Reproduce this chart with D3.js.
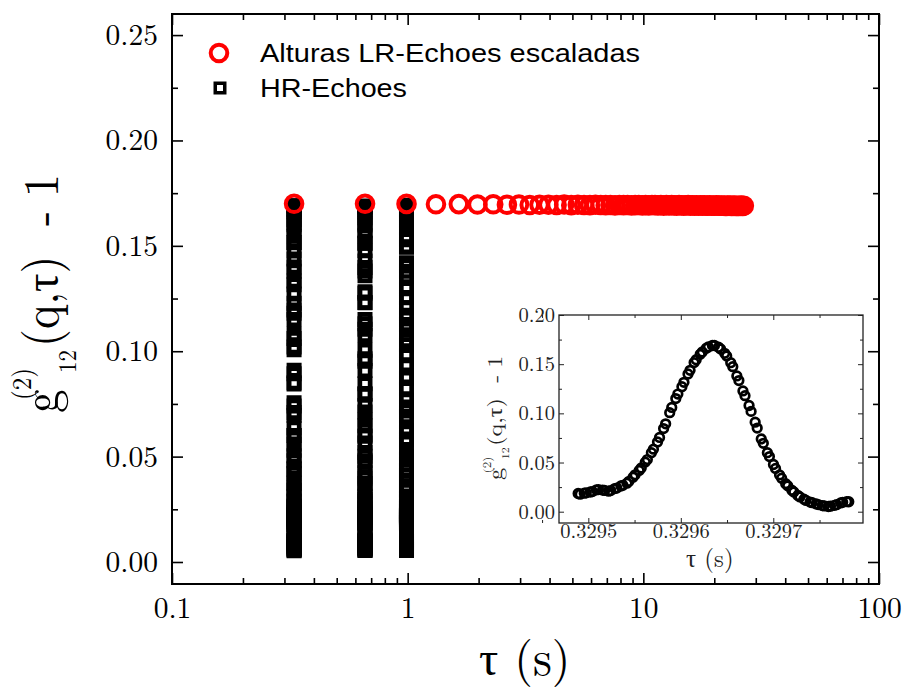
<!DOCTYPE html>
<html><head><meta charset="utf-8">
<script src="https://cdn.jsdelivr.net/npm/d3@7"></script>
<style>body{margin:0;background:#fff} svg{display:block}</style>
</head><body>
<svg id="chart" width="906" height="687"></svg>
<script>
// ---------------- DATA ----------------
const seriesNames = ["Alturas LR-Echoes escaladas", "HR-Echoes"];

// LR echoes: echo times (s) and scaled heights
const lrTau = [0.3296,0.6593,0.9889,1.3185,1.6482,1.9778,2.3074,2.6370,2.9667,3.2963,
  3.6259,3.9556,4.2852,4.6148,4.9445,5.2741,5.6037,5.9333,6.2630,6.5926,
  6.9222,7.2519,7.5815,7.9111,8.2408,8.5704,8.9000,9.2296,9.5593,9.8889,
  10.2185,10.5482,10.8778,11.2074,11.5371,11.8667,12.1963,12.5259,12.8556,13.1852,
  13.5148,13.8445,14.1741,14.5037,14.8334,15.1630,15.4926,15.8222,16.1519,16.4815,
  16.8111,17.1408,17.4704,17.8000,18.1297,18.4593,18.7889,19.1185,19.4482,19.7778,
  20.1074,20.4371,20.7667,21.0963,21.4260,21.7556,22.0852,22.4148,22.7445,23.0741,
  23.4037,23.7334,24.0630,24.3926,24.7223,25.0519,25.3815,25.7111,26.0408,26.3704,
  26.7000];
const lrG = [0.1700,0.1700,0.1699,0.1697,0.1698,0.1696,0.1697,0.1695,0.1696,0.1694,
  0.1695,0.1695,0.1694,0.1696,0.1693,0.1695,0.1694,0.1693,0.1695,0.1694,
  0.1693,0.1694,0.1692,0.1694,0.1693,0.1694,0.1692,0.1693,0.1694,0.1692,
  0.1693,0.1692,0.1694,0.1693,0.1692,0.1693,0.1691,0.1693,0.1692,0.1693,
  0.1692,0.1691,0.1693,0.1692,0.1691,0.1692,0.1693,0.1691,0.1692,0.1691,
  0.1692,0.1690,0.1692,0.1691,0.1692,0.1690,0.1691,0.1692,0.1690,0.1691,
  0.1690,0.1692,0.1691,0.1690,0.1691,0.1690,0.1691,0.1689,0.1691,0.1690,
  0.1691,0.1689,0.1690,0.1691,0.1689,0.1690,0.1689,0.1690,0.1691,0.1689,
  0.1690];

// HR echo 1 (also shown in the inset)
const hr1Tau = [0.3294890,0.3294912,0.3294956,0.3294978,0.3295022,0.3295044,0.3295088,
  0.3295110,0.3295154,0.3295176,0.3295220,0.3295242,0.3295286,0.3295308,
  0.3295352,0.3295374,0.3295418,0.3295440,0.3295484,0.3295506,
  0.3295550,0.3295572,0.3295616,0.3295638,0.3295682,0.3295704,0.3295748,
  0.3295770,0.3295814,0.3295836,0.3295880,0.3295902,0.3295946,0.3295968,
  0.3296012,0.3296034,0.3296078,0.3296100,0.3296144,0.3296166,
  0.3296210,0.3296232,0.3296276,0.3296298,0.3296342,0.3296364,0.3296408,
  0.3296430,0.3296474,0.3296496,0.3296540,0.3296562,0.3296606,0.3296628,
  0.3296672,0.3296694,0.3296738,0.3296760,0.3296804,0.3296826,
  0.3296870,0.3296892,0.3296936,0.3296958,0.3297002,0.3297024,0.3297068,
  0.3297090,0.3297134,0.3297156,0.3297200,0.3297222,0.3297266,0.3297288,
  0.3297332,0.3297354,0.3297398,0.3297420,0.3297464,0.3297486,
  0.3297530,0.3297552,0.3297596,0.3297618,0.3297662,0.3297684,0.3297728,
  0.3297750,0.3297794,0.3297816];
const hr1G = [0.0185,0.0178,0.0188,0.0192,0.0200,0.0205,0.0222,
  0.0225,0.0220,0.0216,0.0209,0.0215,0.0235,0.0240,
  0.0261,0.0268,0.0290,0.0309,0.0351,0.0375,
  0.0420,0.0445,0.0504,0.0530,0.0600,0.0636,0.0709,
  0.0755,0.0845,0.0893,0.1007,0.1060,0.1150,0.1196,
  0.1271,0.1315,0.1400,0.1437,0.1516,0.1545,
  0.1600,0.1624,0.1662,0.1675,0.1690,0.1690,0.1672,
  0.1655,0.1610,0.1583,0.1515,0.1475,0.1380,0.1333,
  0.1228,0.1180,0.1080,0.1020,0.0910,0.0850,
  0.0740,0.0695,0.0600,0.0560,0.0480,0.0440,0.0374,
  0.0340,0.0285,0.0263,0.0218,0.0200,0.0165,0.0150,
  0.0127,0.0115,0.0098,0.0092,0.0079,0.0072,
  0.0062,0.0059,0.0053,0.0056,0.0065,0.0071,0.0089,
  0.0095,0.0102,0.0101];

// HR echo 2
const hr2Tau = [0.6589802,0.6589824,0.6589868,0.6589890,0.6589934,0.6589956,
  0.6590000,0.6590022,0.6590066,0.6590088,0.6590132,0.6590154,0.6590198,
  0.6590220,0.6590264,0.6590286,0.6590330,0.6590352,0.6590396,0.6590418,
  0.6590462,0.6590484,0.6590528,0.6590550,0.6590594,0.6590616,
  0.6590660,0.6590682,0.6590726,0.6590748,0.6590792,0.6590814,0.6590858,
  0.6590880,0.6590924,0.6590946,0.6590990,0.6591012,0.6591056,0.6591078,
  0.6591122,0.6591144,0.6591188,0.6591210,0.6591254,0.6591276,
  0.6591320,0.6591342,0.6591386,0.6591408,0.6591452,0.6591474,0.6591518,
  0.6591540,0.6591584,0.6591606,0.6591650,0.6591672,0.6591716,0.6591738,
  0.6591782,0.6591804,0.6591848,0.6591870,0.6591914,0.6591936,
  0.6591980,0.6592002,0.6592046,0.6592068,0.6592112,0.6592134,0.6592178,
  0.6592200,0.6592244,0.6592266,0.6592310,0.6592332,0.6592376,0.6592398,
  0.6592442,0.6592464,0.6592508,0.6592530,0.6592574,0.6592596,
  0.6592640,0.6592662,0.6592706,0.6592728];
const hr2G = [0.0186,0.0187,0.0197,0.0204,0.0213,0.0221,
  0.0224,0.0218,0.0212,0.0212,0.0226,0.0233,0.0252,
  0.0259,0.0280,0.0296,0.0332,0.0352,0.0398,0.0424,
  0.0473,0.0502,0.0565,0.0597,0.0674,0.0712,
  0.0800,0.0846,0.0953,0.1005,0.1104,0.1150,0.1231,
  0.1275,0.1358,0.1397,0.1478,0.1512,0.1572,0.1599,
  0.1643,0.1660,0.1683,0.1689,0.1684,0.1671,
  0.1633,0.1608,0.1548,0.1512,0.1428,0.1381,0.1282,
  0.1230,0.1130,0.1075,0.0964,0.0908,0.0795,0.0742,
  0.0646,0.0603,0.0520,0.0480,0.0405,0.0372,
  0.0312,0.0286,0.0240,0.0220,0.0182,0.0166,0.0138,
  0.0126,0.0106,0.0098,0.0084,0.0078,0.0067,0.0062,
  0.0056,0.0055,0.0060,0.0066,0.0080,0.0088,
  0.0098,0.0100,0.0099,0.0097];

// HR echo 3
const hr3Tau = [0.9884670,0.9884714,0.9884736,0.9884780,0.9884802,0.9884846,0.9884868,
  0.9884912,0.9884934,0.9884978,0.9885000,0.9885044,0.9885066,
  0.9885110,0.9885132,0.9885176,0.9885198,0.9885242,0.9885264,0.9885308,
  0.9885330,0.9885374,0.9885396,0.9885440,0.9885462,0.9885506,0.9885528,
  0.9885572,0.9885594,0.9885638,0.9885660,0.9885704,0.9885726,
  0.9885770,0.9885792,0.9885836,0.9885858,0.9885902,0.9885924,0.9885968,
  0.9885990,0.9886034,0.9886056,0.9886100,0.9886122,0.9886166,0.9886188,
  0.9886232,0.9886254,0.9886298,0.9886320,0.9886364,0.9886386,
  0.9886430,0.9886452,0.9886496,0.9886518,0.9886562,0.9886584,0.9886628,
  0.9886650,0.9886694,0.9886716,0.9886760,0.9886782,0.9886826,0.9886848,
  0.9886892,0.9886914,0.9886958,0.9886980,0.9887024,0.9887046,
  0.9887090,0.9887112,0.9887156,0.9887178,0.9887222,0.9887244,0.9887288,
  0.9887310,0.9887354,0.9887376,0.9887420,0.9887442,0.9887486,0.9887508,
  0.9887552,0.9887574,0.9887618];
const hr3G = [0.0186,0.0182,0.0189,0.0200,0.0204,0.0218,0.0223,
  0.0222,0.0217,0.0211,0.0214,0.0229,0.0239,
  0.0254,0.0263,0.0286,0.0300,0.0341,0.0362,0.0411,
  0.0434,0.0488,0.0517,0.0583,0.0617,0.0691,0.0735,
  0.0823,0.0871,0.0978,0.1031,0.1127,0.1171,
  0.1255,0.1296,0.1379,0.1420,0.1496,0.1529,0.1586,
  0.1611,0.1653,0.1668,0.1688,0.1693,0.1678,0.1662,
  0.1621,0.1595,0.1531,0.1493,0.1405,0.1355,
  0.1255,0.1205,0.1104,0.1051,0.0936,0.0879,0.0768,
  0.0716,0.0624,0.0581,0.0500,0.0461,0.0388,0.0356,
  0.0299,0.0273,0.0230,0.0210,0.0174,0.0158,
  0.0132,0.0121,0.0102,0.0094,0.0081,0.0075,0.0064,
  0.0060,0.0055,0.0056,0.0063,0.0068,0.0084,0.0091,
  0.0100,0.0101,0.0099];

// Tick values / labels
const xMajorTicks = [0.1, 1, 10, 100];
const xTickLabels = ["0.1", "1", "10", "100"];
const yMajorTicks = [0, 0.05, 0.10, 0.15, 0.20, 0.25];
const insetXTicks = [0.3295, 0.3296, 0.3297];
const insetYTicks = [0, 0.05, 0.10, 0.15, 0.20];

// ---------------- DRAWING ----------------
const SERIF = '"Latin Modern Roman","CMU Serif","Liberation Serif",serif';
const SANS = '"Liberation Sans",Arial,sans-serif';
const svg = d3.select('#chart');
const M = {left:172, right:879, top:14, bottom:584};

const x = d3.scaleLog().domain([0.1,100]).range([M.left, M.right]);
const y = d3.scaleLinear().domain([-0.01044,0.26]).range([M.bottom, M.top]);

svg.append('rect').attr('width',906).attr('height',687).attr('fill','#fff');

const xMinor = [];
[0.1,1,10].forEach(d => { for (let k=2;k<=9;k++) xMinor.push(d*k); });
const yMinor = yMajorTicks.map(v => v + 0.025);

function styleAxis(g, fs, col, lw){
  g.select('.domain').remove();
  g.selectAll('line').attr('stroke',col).attr('stroke-width',lw);
  g.selectAll('text').attr('fill',col).style('font-family',SERIF).style('font-size',fs+'px');
}
function addAxis(axis, tx, ty, fs, col, lw){
  svg.append('g').attr('transform',`translate(${tx},${ty})`).call(axis).call(g=>styleAxis(g,fs,col,lw));
}
addAxis(d3.axisBottom(x).tickValues(xMajorTicks).tickSize(-11).tickPadding(13).tickFormat((d,i)=>xTickLabels[i]), 0, M.bottom, 29.5, '#000', 1.6);
addAxis(d3.axisBottom(x).tickValues(xMinor).tickSize(-6).tickFormat(''), 0, M.bottom, 29.5, '#000', 1.6);
addAxis(d3.axisTop(x).tickValues(xMajorTicks).tickSize(-11).tickFormat(''), 0, M.top, 29.5, '#000', 1.6);
addAxis(d3.axisTop(x).tickValues(xMinor).tickSize(-6).tickFormat(''), 0, M.top, 29.5, '#000', 1.6);
addAxis(d3.axisLeft(y).tickValues(yMajorTicks).tickSize(-11).tickPadding(14).tickFormat(d3.format('.2f')), M.left, 0, 29.5, '#000', 1.6);
addAxis(d3.axisLeft(y).tickValues(yMinor).tickSize(-6).tickFormat(''), M.left, 0, 29.5, '#000', 1.6);
addAxis(d3.axisRight(y).tickValues(yMajorTicks).tickSize(-11).tickFormat(''), M.right, 0, 29.5, '#000', 1.6);
addAxis(d3.axisRight(y).tickValues(yMinor).tickSize(-6).tickFormat(''), M.right, 0, 29.5, '#000', 1.6);

svg.append('rect').attr('x',M.left).attr('y',M.top)
  .attr('width',M.right-M.left).attr('height',M.bottom-M.top)
  .attr('fill','none').attr('stroke','#000').attr('stroke-width',2);

// HR echoes (black open squares)
const sq = d3.symbol().type(d3.symbolSquare).size(106);
const hrData = [];
[[hr1Tau,hr1G],[hr2Tau,hr2G],[hr3Tau,hr3G]].forEach(([t,g]) => {
  t.forEach((tv,i)=> hrData.push({t:tv, g:g[i]}));
});
svg.append('g').selectAll('path').data(hrData).join('path')
  .attr('d', sq)
  .attr('transform', d=>`translate(${x(d.t)},${y(d.g)})`)
  .attr('fill','none').attr('stroke','#000').attr('stroke-width',4.7);

// LR echoes (red open circles)
svg.append('g').selectAll('circle').data(lrTau.map((t,i)=>({t, g:lrG[i]}))).join('circle')
  .attr('cx', d=>x(d.t)).attr('cy', d=>y(d.g)).attr('r',8.3)
  .attr('fill','none').attr('stroke','#f00').attr('stroke-width',4);

// legend
const leg = svg.append('g');
leg.append('circle').attr('cx',219).attr('cy',53).attr('r',8.3)
  .attr('fill','none').attr('stroke','#f00').attr('stroke-width',4);
leg.append('path').attr('d', d3.symbol().type(d3.symbolSquare).size(90)())
  .attr('transform','translate(220,88)')
  .attr('fill','none').attr('stroke','#000').attr('stroke-width',3.5);
leg.append('text').attr('x',260).attr('y',62).style('font-family',SANS).style('font-size','26.5px')
  .attr('textLength',380).attr('lengthAdjust','spacingAndGlyphs').text(seriesNames[0]);
leg.append('text').attr('x',260).attr('y',97).style('font-family',SANS).style('font-size','26.5px')
  .attr('textLength',147).attr('lengthAdjust','spacingAndGlyphs').text(seriesNames[1]);

// y-axis title  g^(2)_12(q,τ) - 1
function gTitle(parent, tx, ty, sx, sy, color){
  const g = parent.append('g').attr('transform',`translate(${tx},${ty}) rotate(-90) scale(${sx},${sy})`)
    .attr('fill',color);
  const t = (xx, yy, fs, s) => g.append('text').attr('x',xx).attr('y',yy)
    .style('font-family',SERIF).style('font-size',fs+'px').text(s);
  t(0, 0, 47, 'g');
  t(13, -25, 25, '(2)');
  t(40, 17, 23, '12');
  t(66, 0, 46, '(q,τ)');
  t(187, 0, 46, '-');
  t(216, 0, 46, '1');
}
gTitle(svg, 58, 413, 1, 1.07, '#000');

// x-axis title
svg.append('text').attr('x',479).attr('y',675).style('font-family',SERIF).style('font-size','48px')
  .text('τ (s)');

// ---------------- INSET ----------------
const I = {left:559, right:863, top:315, bottom:523};
const xi = d3.scaleLinear().domain([0.3294683,0.329797]).range([I.left,I.right]);
const yi = d3.scaleLinear().domain([-0.0115,0.2]).range([I.bottom,I.top]);
svg.append('rect').attr('x',I.left).attr('y',I.top).attr('width',I.right-I.left)
  .attr('height',I.bottom-I.top).attr('fill','#fff');

const xiMinor = [0.32945,0.32955,0.32965,0.32975];
const yiMinor = [0.025,0.075,0.125,0.175];
const IC = '#222';
addAxis(d3.axisBottom(xi).tickValues(insetXTicks).tickSize(-5).tickPadding(0).tickFormat(d3.format('.4f')), 0, I.bottom, 20.5, IC, 1);
addAxis(d3.axisBottom(xi).tickValues(xiMinor).tickSize(-3).tickFormat(''), 0, I.bottom, 20, IC, 1);
addAxis(d3.axisTop(xi).tickValues(insetXTicks).tickSize(-5).tickFormat(''), 0, I.top, 20, IC, 1);
addAxis(d3.axisTop(xi).tickValues(xiMinor).tickSize(-3).tickFormat(''), 0, I.top, 20, IC, 1);
addAxis(d3.axisLeft(yi).tickValues(insetYTicks).tickSize(-5).tickPadding(4).tickFormat(d3.format('.2f')), I.left, 0, 20.5, IC, 1);
addAxis(d3.axisLeft(yi).tickValues(yiMinor).tickSize(-3).tickFormat(''), I.left, 0, 20, IC, 1);
addAxis(d3.axisRight(yi).tickValues(insetYTicks).tickSize(-5).tickFormat(''), I.right, 0, 20, IC, 1);
addAxis(d3.axisRight(yi).tickValues(yiMinor).tickSize(-3).tickFormat(''), I.right, 0, 20, IC, 1);

svg.append('rect').attr('x',I.left).attr('y',I.top).attr('width',I.right-I.left)
  .attr('height',I.bottom-I.top).attr('fill','none').attr('stroke',IC).attr('stroke-width',1.3);

svg.append('g').selectAll('circle').data(hr1Tau.map((t,i)=>({t,g:hr1G[i]}))).join('circle')
  .attr('cx',d=>xi(d.t)).attr('cy',d=>yi(d.g)).attr('r',4.3)
  .attr('fill','none').attr('stroke','#000').attr('stroke-width',2.7);

gTitle(svg, 502, 480, 0.52, 0.44, IC);
svg.append('text').attr('x',686).attr('y',567).style('font-family',SERIF).style('font-size','25px')
  .attr('fill',IC).text('τ (s)');
</script>
</body></html>
